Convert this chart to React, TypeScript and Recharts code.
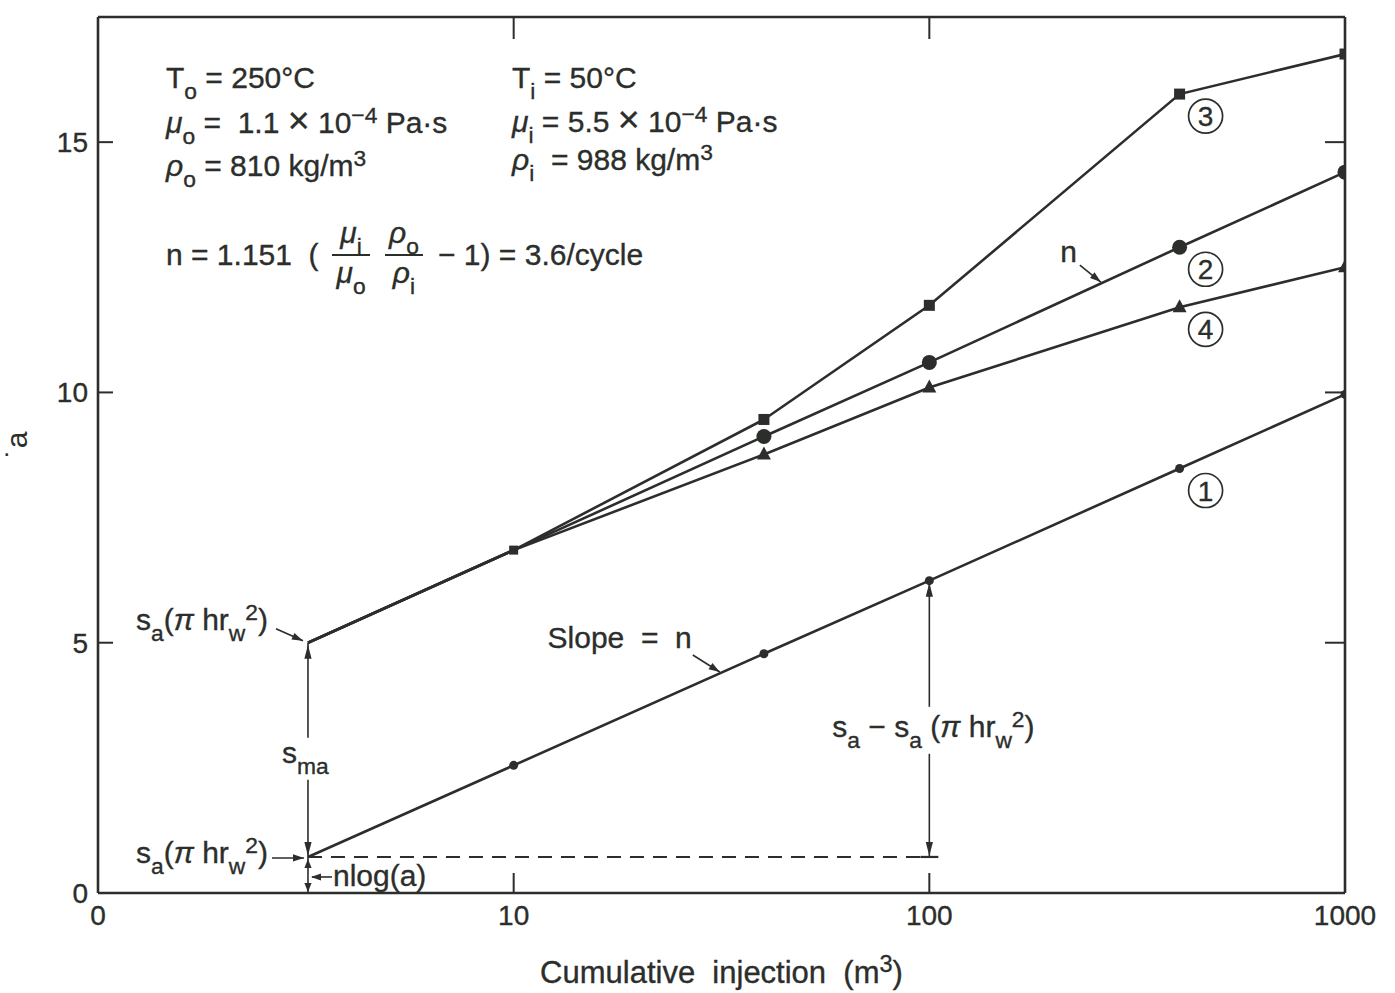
import React from 'react';
import { LineChart, Line, XAxis, YAxis, ReferenceLine, ReferenceDot } from 'recharts';

// cumulative injection (m3) and drawdown values for the four cases
const injection = [3.2, 10, 40, 100, 400, 1000];
const curve1 = [0.72, 2.55, 4.78, 6.24, 8.48, 9.96];
const curve2 = [5.0, 6.85, 9.12, 10.6, 12.9, 14.4];
const curve3 = [5.0, 6.85, 9.46, 11.74, 15.96, 16.76];
const curve4 = [5.0, 6.85, 8.76, 10.1, 11.7, 12.5];

const xTicks = [1, 10, 100, 1000];
const yTicks = [0, 5, 10, 15];

const data = injection.map((v, i) => ({ v, c1: curve1[i], c2: curve2[i], c3: curve3[i], c4: curve4[i] }));

const INK = '#2b2e2b';
const FONT = '"Liberation Sans", Arial, Helvetica, sans-serif';

// value of a series at x, linear in log(x) between the data points
const along = (ys: number[], x: number) => {
  for (let i = 0; i < injection.length - 1; i++) {
    const a = injection[i];
    const b = injection[i + 1];
    if (x >= a && x <= b) {
      const t = (Math.log10(x) - Math.log10(a)) / (Math.log10(b) - Math.log10(a));
      return ys[i] + t * (ys[i + 1] - ys[i]);
    }
  }
  return ys[ys.length - 1];
};

type Seg = string | { t: string; sub?: boolean; sup?: boolean; it?: boolean; big?: boolean };

const Rich = ({ x, y, segs, size = 30, anchor = 'start' }: { x: number; y: number; segs: Seg[]; size?: number; anchor?: 'start' | 'middle' | 'end' }) => {
  let shift = 0;
  const parts = segs.map((s, i) => {
    const seg = typeof s === 'string' ? { t: s } : s;
    const target = seg.sub ? size * 0.38 : seg.sup ? -size * 0.34 : 0;
    const dy = target - shift;
    shift = target;
    const fs = seg.sub || seg.sup ? size * 0.76 : seg.big ? size * 1.25 : size;
    return (
      <tspan key={i} dy={dy || undefined} fontSize={fs} fontStyle={seg.it ? 'italic' : undefined}>
        {seg.t}
      </tspan>
    );
  });
  return (
    <text x={x} y={y} fontSize={size} fill={INK} stroke={INK} strokeWidth={0.35} fontFamily={FONT} textAnchor={anchor} style={{ whiteSpace: 'pre' }}>
      {parts}
    </text>
  );
};

const head = (tx: number, ty: number, fx: number, fy: number, len = 13, half = 3.6) => {
  const a = Math.atan2(ty - fy, tx - fx);
  const bx = tx - len * Math.cos(a);
  const by = ty - len * Math.sin(a);
  const px = -Math.sin(a) * half;
  const py = Math.cos(a) * half;
  return <polygon points={`${tx},${ty} ${bx + px},${by + py} ${bx - px},${by - py}`} fill={INK} />;
};

// vertical dimension line with arrowheads at both ends
type DimOpts = { gap?: [number, number]; bar?: boolean; len?: number; label?: (x: number, mid: number) => React.ReactNode };
const dimShape = (o: DimOpts) => (p: any) => {
  const x = p.x1;
  const top = Math.min(p.y1, p.y2);
  const bot = Math.max(p.y1, p.y2);
  const mid = (top + bot) / 2;
  const len = o.len ?? 14;
  const pieces = o.gap ? [[top, mid + o.gap[0]], [mid + o.gap[1], bot]] : [[top, bot]];
  return (
    <g>
      {pieces.map(([a, b], i) => (
        <line key={i} x1={x} x2={x} y1={a} y2={b} stroke={INK} strokeWidth={1.6} />
      ))}
      {head(x, top + 2, x, top + 20, len)}
      {head(x, bot - 1, x, bot - 20, len)}
      {o.bar && <line x1={x - 9} x2={x + 9} y1={bot} y2={bot} stroke={INK} strokeWidth={2.2} />}
      {o.label && o.label(x, mid)}
    </g>
  );
};

// small arrow pointing at a spot, with its caption
type PtrOpts = { tail: [number, number]; tip?: [number, number]; text: (cx: number, cy: number) => React.ReactNode };
const pointerShape = (o: PtrOpts) => (p: any) => {
  const { cx, cy } = p;
  const [tx, ty] = o.tip ?? [0, 0];
  const x1 = cx + o.tail[0];
  const y1 = cy + o.tail[1];
  const x2 = cx + tx;
  const y2 = cy + ty;
  return (
    <g>
      <line x1={x1} y1={y1} x2={x2} y2={y2} stroke={INK} strokeWidth={1.6} />
      {head(x2, y2, x1, y1, 11, 3.6)}
      {o.text(cx, cy)}
    </g>
  );
};

const circled = (n: string) => (p: any) => (
  <g>
    <circle cx={p.cx + 26} cy={p.cy + 22} r={17} fill="none" stroke={INK} strokeWidth={1.7} />
    <text x={p.cx + 26} y={p.cy + 32} textAnchor="middle" fontSize={28} fontFamily={FONT} fill={INK} stroke={INK} strokeWidth={0.35}>
      {n}
    </text>
  </g>
);

const Frac = ({ x, y, top, bottom, w }: { x: number; y: number; top: Seg[]; bottom: Seg[]; w: number }) => (
  <g>
    <Rich x={x} y={y - 22} anchor="middle" segs={top} />
    <line x1={x - w / 2} x2={x + w / 2} y1={y - 10} y2={y - 10} stroke={INK} strokeWidth={1.8} />
    <Rich x={x} y={y + 18} anchor="middle" segs={bottom} />
  </g>
);

const mu: Seg = { t: 'μ', it: true };
const rho: Seg = { t: 'ρ', it: true };
const pi: Seg = { t: 'π', it: true };
const times: Seg = { t: '×', big: true };
const sa: Seg[] = ['s', { t: 'a', sub: true }];
const piHrw: Seg[] = ['(', pi, ' hr', { t: 'w', sub: true }, { t: '2', sup: true }, ')'];

// fluid properties and the slope formula in the upper left corner
const propsBlock = (p: any) => {
  const { cx, cy } = p;
  const c1 = cx + 68;
  const c2 = cx + 414;
  const fy = cy + 248;
  return (
    <g>
      <Rich x={c1} y={cy + 71} segs={['T', { t: 'o', sub: true }, ' = 250°C']} />
      <Rich x={c1} y={cy + 116} segs={[mu, { t: 'o', sub: true }, ' =  1.1 ', times, ' 10', { t: '−4', sup: true }, ' Pa·s']} />
      <Rich x={c1} y={cy + 159} segs={[rho, { t: 'o', sub: true }, ' = 810 kg/m', { t: '3', sup: true }]} />
      <Rich x={c2} y={cy + 71} segs={['T', { t: 'i', sub: true }, ' = 50°C']} />
      <Rich x={c2} y={cy + 115} segs={[mu, { t: 'i', sub: true }, ' = 5.5 ', times, ' 10', { t: '−4', sup: true }, ' Pa·s']} />
      <Rich x={c2} y={cy + 153} segs={[rho, { t: 'i', sub: true }, '  = 988 kg/m', { t: '3', sup: true }]} />
      <Rich x={c1} y={fy} segs={['n = 1.151  (']} />
      <Frac x={cx + 253} y={fy} w={38} top={[mu, { t: 'i', sub: true }]} bottom={[mu, { t: 'o', sub: true }]} />
      <Frac x={cx + 306} y={fy} w={38} top={[rho, { t: 'o', sub: true }]} bottom={[rho, { t: 'i', sub: true }]} />
      <Rich x={cx + 340} y={fy} segs={['− 1) = 3.6/cycle']} />
    </g>
  );
};

const dotShape = (kind: 'square' | 'circle' | 'small' | 'triangle', skip: number[]) => (p: any) => {
  const { cx, cy, index } = p;
  if (skip.includes(index) || cx == null || cy == null) return <g key={`d${index}`} />;
  if (kind === 'square') {
    const s = index === 1 ? 9 : 11;
    return <rect key={`d${index}`} x={cx - s / 2} y={cy - s / 2} width={s} height={s} fill={INK} />;
  }
  if (kind === 'circle') return <circle key={`d${index}`} cx={cx} cy={cy} r={7.5} fill={INK} />;
  if (kind === 'small') return <circle key={`d${index}`} cx={cx} cy={cy} r={4.5} fill={INK} />;
  return <polygon key={`d${index}`} points={`${cx},${cy - 8} ${cx + 7},${cy + 5} ${cx - 7},${cy + 5}`} fill={INK} />;
};

const frame = { stroke: INK, strokeWidth: 2.6 };
const tickLine = { stroke: INK, strokeWidth: 2 };
const tickText = { fill: INK, stroke: INK, strokeWidth: 0.35, fontSize: 28, fontFamily: FONT };
const blank = () => '';

const slopeX = 31.5;
const nX = 260;

export default function App() {
  return (
    <div style={{ position: 'fixed', left: 0, top: 0, width: 1395, height: 993, background: '#fff' }}>
      <LineChart width={1395} height={993} data={data} margin={{ top: 0, right: 0, bottom: 0, left: 0 }}>
        <XAxis
          xAxisId="top"
          orientation="top"
          dataKey="v"
          type="number"
          scale="log"
          domain={[1, 1000]}
          allowDataOverflow
          ticks={xTicks}
          interval={0}
          tickFormatter={blank}
          tickSize={-22}
          height={17}
          axisLine={frame}
          tickLine={tickLine}
        />
        <XAxis
          dataKey="v"
          type="number"
          scale="log"
          domain={[1, 1000]}
          allowDataOverflow
          ticks={xTicks}
          interval={0}
          tickFormatter={(v: number) => (v === 1 ? '0' : String(v))}
          tickSize={-20}
          tickMargin={32}
          height={100}
          axisLine={frame}
          tickLine={tickLine}
          tick={tickText}
          label={{
            content: (p: any) => {
              const vb = p.viewBox;
              return (
                <Rich x={vb.x + vb.width / 2} y={vb.y + 90} anchor="middle" size={31} segs={['Cumulative  injection  (m', { t: '3', sup: true }, ')']} />
              );
            },
          }}
        />
        <YAxis
          type="number"
          domain={[0, 17.5]}
          allowDataOverflow
          ticks={yTicks}
          interval={0}
          width={98}
          tickSize={-15}
          tickMargin={25}
          axisLine={frame}
          tickLine={tickLine}
          tick={tickText}
          label={{
            content: (p: any) => {
              const vb = p.viewBox;
              const x = vb.x + 27;
              const y = vb.y + vb.height / 2 - 10;
              return (
                <text x={x} y={y} transform={`rotate(-90 ${x} ${y})`} textAnchor="middle" fontSize={30} fontFamily={FONT} fill={INK}>
                  ˙a
                </text>
              );
            },
          }}
        />
        <YAxis
          yAxisId="right"
          orientation="right"
          type="number"
          domain={[0, 17.5]}
          allowDataOverflow
          ticks={yTicks}
          interval={0}
          width={50}
          tickFormatter={blank}
          tickSize={-20}
          axisLine={frame}
          tickLine={tickLine}
        />

        <ReferenceLine
          segment={[{ x: injection[0], y: curve1[0] }, { x: 100, y: curve1[0] }]}
          stroke={INK}
          strokeWidth={2}
          strokeDasharray="14 9"
          ifOverflow="visible"
        />

        {/* unpainted series that ties the top frame axis to the data */}
        <Line xAxisId="top" yAxisId="right" dataKey="c1" stroke="none" dot={false} activeDot={false} legendType="none" isAnimationActive={false} />

        <Line dataKey="c1" type="linear" stroke={INK} strokeWidth={2.6} dot={dotShape('small', [0])} activeDot={false} isAnimationActive={false} />
        <Line dataKey="c4" type="linear" stroke={INK} strokeWidth={2.6} dot={dotShape('triangle', [0, 1])} activeDot={false} isAnimationActive={false} />
        <Line dataKey="c2" type="linear" stroke={INK} strokeWidth={2.6} dot={dotShape('circle', [0, 1])} activeDot={false} isAnimationActive={false} />
        <Line dataKey="c3" type="linear" stroke={INK} strokeWidth={2.6} dot={dotShape('square', [0])} activeDot={false} isAnimationActive={false} />

        {/* s_ma between the two starting points */}
        <ReferenceLine
          segment={[{ x: injection[0], y: curve2[0] }, { x: injection[0], y: curve1[0] }]}
          ifOverflow="visible"
          shape={dimShape({
            gap: [-12, 30],
            label: (x, mid) => <Rich x={x - 26} y={mid + 13} segs={['s', { t: 'ma', sub: true }]} />,
          })}
        />
        {/* n log(a) down to the axis */}
        <ReferenceLine
          segment={[{ x: injection[0], y: curve1[0] }, { x: injection[0], y: 0 }]}
          ifOverflow="visible"
          shape={dimShape({
            len: 9,
            label: (x, mid) => (
              <g>
                <line x1={x + 24} x2={x + 4} y1={mid + 2} y2={mid + 2} stroke={INK} strokeWidth={1.6} />
                {head(x + 3, mid + 2, x + 24, mid + 2, 10, 3.4)}
                <Rich x={x + 25} y={mid + 11} segs={['nlog(a)']} />
              </g>
            ),
          })}
        />
        {/* s_a - s_a(pi h rw^2) at 100 m3 */}
        <ReferenceLine
          segment={[{ x: 100, y: curve1[3] }, { x: 100, y: curve1[0] }]}
          ifOverflow="visible"
          shape={dimShape({
            gap: [-12, 35],
            bar: true,
            label: (x, mid) => <Rich x={x - 97} y={mid + 18} segs={[...sa, ' − ', ...sa, ' ', ...piHrw]} />,
          })}
        />

        <ReferenceDot
          x={injection[0]}
          y={curve2[0]}
          r={0}
          ifOverflow="visible"
          shape={pointerShape({
            tail: [-32, -14],
            tip: [-5, -2],
            text: (cx, cy) => <Rich x={cx - 40} y={cy - 13} anchor="end" segs={[...sa, ...piHrw]} />,
          })}
        />
        <ReferenceDot
          x={injection[0]}
          y={curve1[0]}
          r={0}
          ifOverflow="visible"
          shape={pointerShape({
            tail: [-36, 1],
            tip: [-4, 1],
            text: (cx, cy) => <Rich x={cx - 40} y={cy + 6} anchor="end" segs={[...sa, ...piHrw]} />,
          })}
        />
        <ReferenceDot
          x={slopeX}
          y={along(curve1, slopeX)}
          r={0}
          ifOverflow="visible"
          shape={pointerShape({
            tail: [-28, -18],
            tip: [-1, -1],
            text: (cx, cy) => <Rich x={cx - 29} y={cy - 25} anchor="end" segs={['Slope  =  n']} />,
          })}
        />
        <ReferenceDot
          x={nX}
          y={along(curve2, nX)}
          r={0}
          ifOverflow="visible"
          shape={pointerShape({
            tail: [-22, -18],
            tip: [-1, -1],
            text: (cx, cy) => <Rich x={cx - 25} y={cy - 21} anchor="end" segs={['n']} />,
          })}
        />

        <ReferenceDot x={400} y={curve3[4]} r={0} ifOverflow="visible" shape={circled('3')} />
        <ReferenceDot x={400} y={curve2[4]} r={0} ifOverflow="visible" shape={circled('2')} />
        <ReferenceDot x={400} y={curve4[4]} r={0} ifOverflow="visible" shape={circled('4')} />
        <ReferenceDot x={400} y={curve1[4]} r={0} ifOverflow="visible" shape={circled('1')} />

        <ReferenceDot x={1} y={17.5} r={0} ifOverflow="visible" shape={propsBlock} />
      </LineChart>
    </div>
  );
}
